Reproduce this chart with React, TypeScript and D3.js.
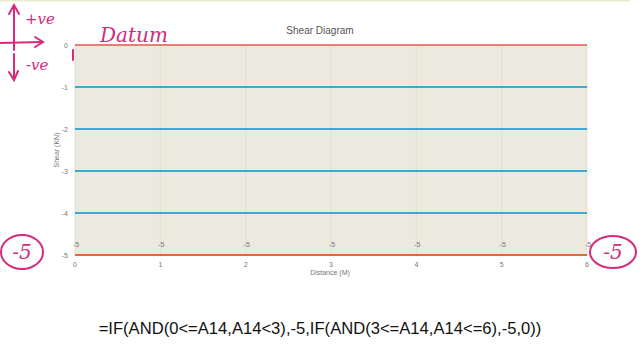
import React from "react";
import * as d3 from "d3";

const distances = [0, 1, 2, 3, 4, 5, 6];
const shear = [-5, -5, -5, -5, -5, -5, -5];
const yTicks = [0, -1, -2, -3, -4, -5];
const xTicks = [0, 1, 2, 3, 4, 5, 6];
const title = "Shear Diagram";
const xTitle = "Distance (M)";
const yTitle = "Shear (KN)";
const formula = "=IF(AND(0<=A14,A14<3),-5,IF(AND(3<=A14,A14<=6),-5,0))";

const PINK = "#d62a7c";

export default function App() {
  const W = 640, H = 360;
  const x = d3.scaleLinear().domain([0, 6]).range([75, 587]);
  const y = d3.scaleLinear().domain([-5, 0]).range([255, 45]);
  const line = d3.line<number>().x((_, i) => x(distances[i])).y((d) => y(d));
  const gray = "#777";

  return (
    <svg width={W} height={H} style={{ position: "absolute", left: 0, top: 0, background: "#fff" }}
      fontFamily="Liberation Sans, Arial, sans-serif">
      <rect x={0} y={0} width={W} height={H} fill="#fff" />
      <line x1={0} x2={630} y1={0.5} y2={0.5} stroke="#e8eccf" strokeWidth={2} />
      <text x={320} y={34} textAnchor="middle" fontSize={10} fill="#555">{title}</text>
      {/* plot bg */}
      <rect x={x(0)} y={y(0)} width={x(6) - x(0)} height={y(-5) - y(0)} fill="#ece9df" />
      {xTicks.map((t) => (
        <line key={"vx" + t} x1={x(t)} x2={x(t)} y1={y(0)} y2={y(-5)} stroke="#e2dfd3" strokeWidth={1} />
      ))}
      {yTicks.filter((t) => t < 0 && t > -5).map((t) => (
        <line key={"gy" + t} x1={x(0)} x2={x(6)} y1={y(t)} y2={y(t)} stroke="#3aaad6" strokeWidth={2} />
      ))}
      <line x1={x(0)} x2={x(6)} y1={y(0)} y2={y(0)} stroke="#e0574f" strokeWidth={1.5} />
      <path d={line(shear) || ""} fill="none" stroke="#e26a2c" strokeWidth={2} />
      {yTicks.map((t) => (
        <text key={"yt" + t} x={68} y={y(t) + 3} textAnchor="end" fontSize={7} fill={gray}>{t}</text>
      ))}
      {xTicks.map((t) => (
        <text key={"xt" + t} x={x(t)} y={y(-5) + 12} textAnchor="middle" fontSize={7} fill={gray}>{t}</text>
      ))}
      {shear.map((v, i) => (
        <text key={"dl" + i} x={x(distances[i]) + 1} y={y(v) - 8} textAnchor="middle" fontSize={7} fill={gray}>{v}</text>
      ))}
      <text x={330} y={275} textAnchor="middle" fontSize={7} fill={gray}>{xTitle}</text>
      <text transform={`translate(59,150) rotate(-90)`} textAnchor="middle" fontSize={7} fill={gray}>{yTitle}</text>
      <text x={320} y={334} textAnchor="middle" fontSize={16.6} fill="#111">{formula}</text>

      {/* handwritten annotations */}
      <g stroke={PINK} strokeWidth={2} fill="none" strokeLinecap="round">
        <path d="M14,50 L14,6" />
        <path d="M9,14 L14,5 L19,14" />
        <path d="M0,43 L42,42" />
        <path d="M35,37 L43,42 L35,47" />
        <path d="M14,54 L14,80" />
        <path d="M9,72 L14,80 L18,71" />
        <path d="M73,50 L73,60" />
        <ellipse cx={22} cy={252} rx={21} ry={17} />
        <ellipse cx={613} cy={252} rx={23} ry={16} />
      </g>
      <g fill={PINK} fontFamily="DejaVu Serif, serif" fontStyle="italic">
        <text x={25} y={24} fontSize={15}>+ve</text>
        <text x={26} y={70} fontSize={15}>-ve</text>
        <text x={100} y={42} fontSize={20}>Datum</text>
        <text x={22} y={259} fontSize={20} textAnchor="middle">-5</text>
        <text x={613} y={259} fontSize={20} textAnchor="middle">-5</text>
      </g>
    </svg>
  );
}
